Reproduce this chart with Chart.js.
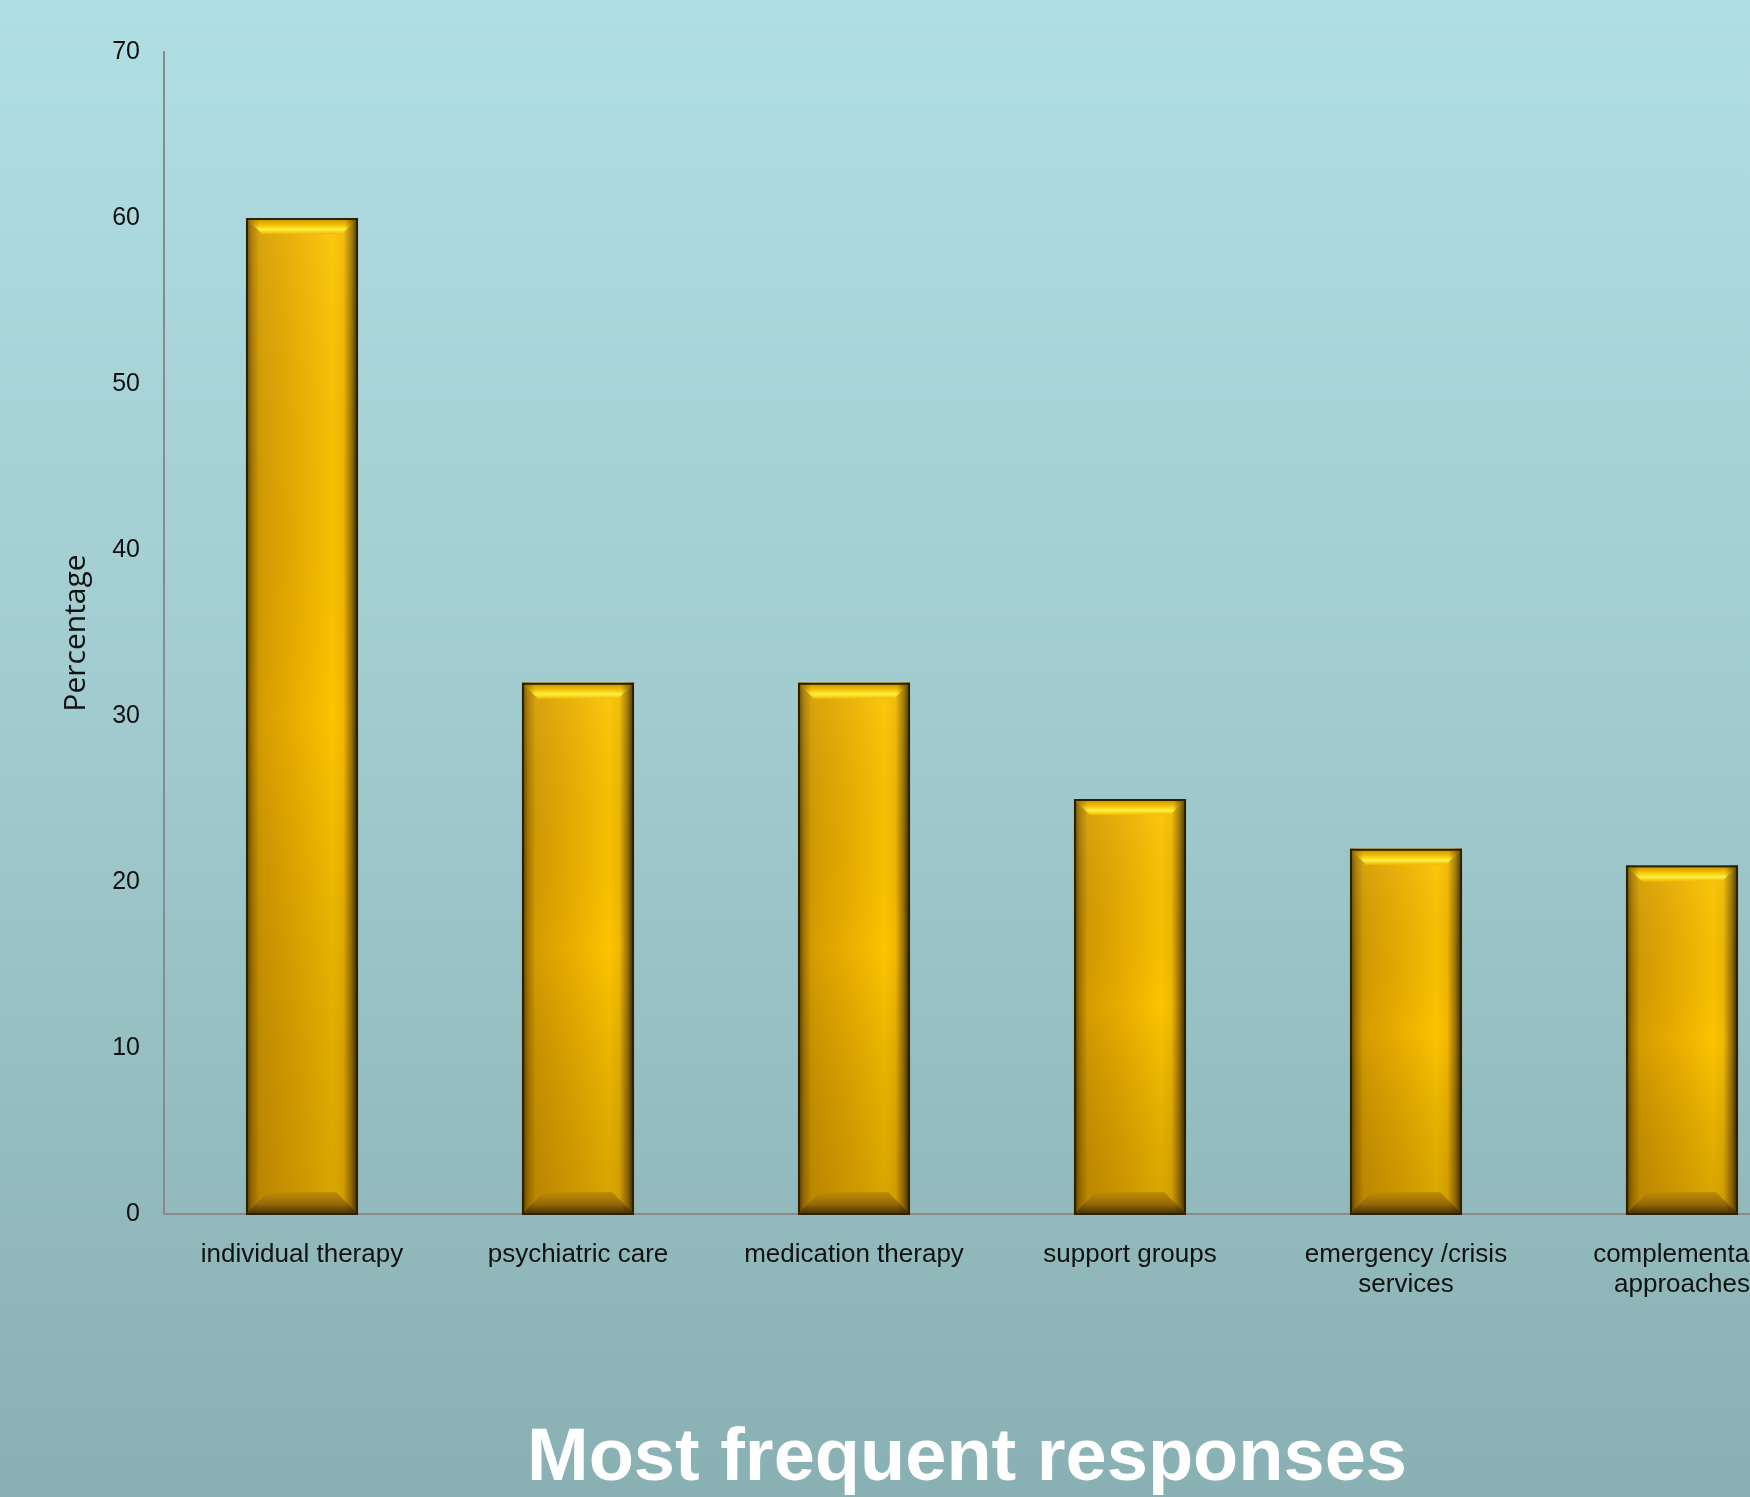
<!DOCTYPE html>
<html>
<head>
<meta charset="utf-8">
<script src="https://cdn.jsdelivr.net/npm/chart.js@4/dist/chart.umd.min.js"></script>
<style>
  html, body { margin: 0; padding: 0; overflow: hidden; width: 1750px; height: 1497px; background: #9fc6ca; }
  #wrap { position: absolute; left: 0; top: 0; width: 1934px; height: 1497px; }
  canvas { display: block; }
</style>
</head>
<body>
<div id="wrap"><canvas id="c" width="1934" height="1497" style="width:1934px;height:1497px"></canvas></div>
<script>
// ---- data ----
const categories = [
  'individual therapy',
  'psychiatric care',
  'medication therapy',
  'support groups',
  ['emergency /crisis', 'services'],
  ['complementary', 'approaches']
];
const percentages = [60, 32, 32, 25, 22, 21];
const yTicks = [0, 10, 20, 30, 40, 50, 60, 70];
const chartTitle = 'Most frequent responses';
const yAxisTitle = 'Percentage';

// ---- plugins ----
const bgPlugin = {
  id: 'bgGradient',
  beforeDraw(chart) {
    const { ctx, width, height } = chart;
    const g = ctx.createLinearGradient(0, 0, 0, height);
    g.addColorStop(0, 'rgb(176,223,227)');
    g.addColorStop(0.5, 'rgb(160,202,206)');
    g.addColorStop(1, 'rgb(137,176,178)');
    ctx.save();
    ctx.fillStyle = g;
    ctx.fillRect(0, 0, width, height);
    ctx.restore();
  }
};

const bevelPlugin = {
  id: 'goldBevel',
  afterDatasetDraw(chart, args) {
    const meta = args.meta;
    const ctx = chart.ctx;
    ctx.save();
    meta.data.forEach((bar) => {
      const p = bar.getProps(['x', 'y', 'base', 'width'], true);
      const l = p.x - p.width / 2, r = p.x + p.width / 2;
      const t = Math.min(p.y, p.base), b = Math.max(p.y, p.base);
      const w = r - l, h = b - t;
      const bv = 16;
      // main body horizontal gradient
      const hg = ctx.createLinearGradient(l, 0, r, 0);
      hg.addColorStop(0.00, '#4a3600');
      hg.addColorStop(0.05, '#a27400');
      hg.addColorStop(0.12, '#d59c00');
      hg.addColorStop(0.45, '#eaae00');
      hg.addColorStop(0.78, '#fcc400');
      hg.addColorStop(0.87, '#f2b800');
      hg.addColorStop(0.94, '#9c7300');
      hg.addColorStop(1.00, '#2a1f00');
      ctx.fillStyle = hg;
      ctx.fillRect(l, t, w, h);
      // vertical darkening
      const vg = ctx.createLinearGradient(0, t, 0, b);
      vg.addColorStop(0, 'rgba(255,230,120,0.12)');
      vg.addColorStop(0.5, 'rgba(0,0,0,0)');
      vg.addColorStop(1, 'rgba(90,55,0,0.22)');
      ctx.fillStyle = vg;
      ctx.fillRect(l, t, w, h);
      // top bevel
      const tg = ctx.createLinearGradient(0, t, 0, t + bv);
      tg.addColorStop(0, '#c29000');
      tg.addColorStop(0.4, '#f0bc00');
      tg.addColorStop(0.72, '#fff040');
      tg.addColorStop(1, '#f0b800');
      ctx.beginPath();
      ctx.moveTo(l, t); ctx.lineTo(r, t); ctx.lineTo(r - bv, t + bv); ctx.lineTo(l + bv, t + bv); ctx.closePath();
      ctx.fillStyle = tg;
      ctx.fill();
      const tsg = ctx.createLinearGradient(l, 0, r, 0);
      tsg.addColorStop(0, 'rgba(80,55,0,0.55)');
      tsg.addColorStop(0.12, 'rgba(80,55,0,0)');
      tsg.addColorStop(0.88, 'rgba(80,55,0,0)');
      tsg.addColorStop(1, 'rgba(40,28,0,0.7)');
      ctx.fillStyle = tsg;
      ctx.fill();
      // bottom bevel
      const bb = bv + 6;
      const bg = ctx.createLinearGradient(0, b - bb, 0, b);
      bg.addColorStop(0, '#c08c00');
      bg.addColorStop(0.55, '#94690a');
      bg.addColorStop(1, '#463200');
      ctx.beginPath();
      ctx.moveTo(l, b); ctx.lineTo(r, b); ctx.lineTo(r - bb, b - bb); ctx.lineTo(l + bb, b - bb); ctx.closePath();
      ctx.fillStyle = bg;
      ctx.fill();
      ctx.fillStyle = tsg;
      ctx.fill();
      // outline
      ctx.lineWidth = 2;
      ctx.strokeStyle = '#2c2100';
      ctx.strokeRect(l + 1, t + 1, w - 2, h - 1);
    });
    ctx.restore();
  }
};

const TITLE_SIZE = 74;
const TITLE_LH = 1.0;

const ctx = document.getElementById('c').getContext('2d');
new Chart(ctx, {
  type: 'bar',
  data: {
    labels: categories,
    datasets: [{
      label: yAxisTitle,
      data: percentages,
      backgroundColor: '#f0b400',
      borderWidth: 0,
      categoryPercentage: 1.0,
      barPercentage: 0.406
    }]
  },
  options: {
    responsive: false,
    animation: false,
    devicePixelRatio: 1,
    layout: { padding: { top: 52, left: 0, right: 0, bottom: 0 } },
    plugins: {
      legend: { display: false },
      tooltip: { enabled: false },
      title: {
        display: true,
        position: 'bottom',
        text: chartTitle,
        color: '#ffffff',
        font: { family: "'Liberation Sans', Arial, sans-serif", size: TITLE_SIZE, weight: 'bold', lineHeight: TITLE_LH },
        padding: { top: 0, bottom: 0 }
      }
    },
    scales: {
      x: {
        type: 'category',
        offset: true,
        grid: { display: false, drawTicks: false },
        border: { display: true, color: '#8a8a8a', width: 2 },
        ticks: {
          color: '#111111',
          autoSkip: false,
          maxRotation: 0,
          minRotation: 0,
          padding: 26,
          font: { family: "'Liberation Sans', Arial, sans-serif", size: 26, lineHeight: 1.15 }
        },
        afterFit(scale) { scale.height = 1497 - 1214 - TITLE_SIZE * TITLE_LH; }
      },
      y: {
        type: 'linear',
        position: 'left',
        min: yTicks[0],
        max: yTicks[yTicks.length - 1],
        grid: { display: false, drawTicks: false },
        border: { display: true, color: '#8a8a8a', width: 2 },
        ticks: {
          stepSize: 10,
          color: '#111111',
          padding: 24,
          font: { family: "'Liberation Sans', Arial, sans-serif", size: 25 }
        },
        afterBuildTicks(scale) { scale.ticks = yTicks.map(v => ({ value: v })); },
        title: {
          display: true,
          text: yAxisTitle,
          color: '#111111',
          font: { family: "'Open Sans', sans-serif", size: 30, lineHeight: 1.2 },
          padding: { top: 58, bottom: 0 }
        },
        afterFit(scale) { scale.width = 164; }
      },
      yPad: {
        type: 'linear',
        axis: 'y',
        position: 'right',
        min: 0,
        max: 1,
        grid: { display: false, drawTicks: false },
        border: { display: false },
        ticks: { display: false },
        afterFit(scale) { scale.width = 114; }
      }
    }
  },
  plugins: [bgPlugin, bevelPlugin]
});
</script>
</body>
</html>
